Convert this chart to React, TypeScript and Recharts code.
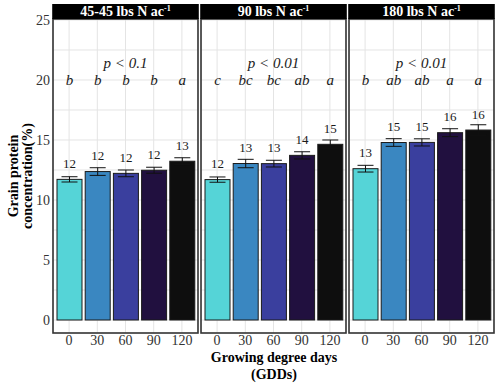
import React from 'react';
import { BarChart, Bar, XAxis, YAxis, CartesianGrid, ErrorBar, Cell } from 'recharts';

// ---------- data ----------
const gddLabels = ['0', '30', '60', '90', '120'];
const nRateTitles = ['45-45 lbs N ac', '90 lbs N ac', '180 lbs N ac'];
const pValueLabels = ['p < 0.1', 'p < 0.01', 'p < 0.01'];

const protein45 = [11.72, 12.37, 12.22, 12.48, 13.23];
const protein90 = [11.7, 13.04, 13.03, 13.72, 14.64];
const protein180 = [12.61, 14.79, 14.8, 15.61, 15.83];

const se45 = [0.22, 0.32, 0.28, 0.25, 0.29];
const se90 = [0.22, 0.35, 0.28, 0.3, 0.36];
const se180 = [0.28, 0.32, 0.3, 0.33, 0.44];

const letters45 = ['b', 'b', 'b', 'b', 'a'];
const letters90 = ['c', 'bc', 'bc', 'ab', 'a'];
const letters180 = ['b', 'ab', 'ab', 'a', 'a'];

const yTicks = [0, 5, 10, 15, 20, 25];
const yGridValues = [0, 2.5, 5, 7.5, 10, 12.5, 15, 17.5, 20, 22.5, 25];
const letterLevel = 20;

// ---------- styles / layout ----------
const FONT = '"Liberation Serif", "Times New Roman", serif';
const barColors = ['#55D4D7', '#3A87C1', '#3A3F9E', '#21103F', '#0E0E0E'];
const PANEL_LEFT = [53, 201, 349];
const PANEL_W = 145;
const PLOT_TOP = 19;
const PLOT_BOTTOM = 333;
const H = 388;
const W = 500;
const X_AXIS_H = 25;

const makeRows = (means: number[], ses: number[], letters: string[]) =>
  gddLabels.map((g, i) => ({ gdd: g, mean: means[i], se: ses[i], letter: letters[i] }));

const panelRows = [
  makeRows(protein45, se45, letters45),
  makeRows(protein90, se90, letters90),
  makeRows(protein180, se180, letters180),
];

const BarShape = (props: any) => {
  const { x, y, width, height, payload, fill } = props;
  if (!payload) return null;
  const ppu = height / payload.mean;
  const y0 = y + height;
  const yLetter = y0 - letterLevel * ppu;
  const cx = x + width / 2;
  return (
    <g>
      <rect x={x} y={y} width={width} height={height} fill={fill} stroke="#1a1a1a" strokeWidth={1} />
      <text x={cx} y={y - 11.5} textAnchor="middle" fontSize={13} fill="#1a1a1a" fontFamily={FONT}>
        {Math.round(payload.mean)}
      </text>
      <text x={cx} y={yLetter + 5} textAnchor="middle" fontSize={15} fontStyle="italic" fill="#1a1a1a" fontFamily={FONT}>
        {payload.letter}
      </text>
    </g>
  );
};

function Panel({ idx }: { idx: number }) {
  const rows = panelRows[idx];
  const withAxis = idx === 0;
  const axisW = withAxis ? 53 : 0;
  return (
    <div style={{ position: 'absolute', left: PANEL_LEFT[idx] - axisW, top: 0 }}>
      <BarChart
        width={PANEL_W + axisW}
        height={H}
        data={rows}
        margin={{ top: PLOT_TOP, right: 0, bottom: H - PLOT_BOTTOM - X_AXIS_H, left: 0 }}
        barSize={25}
      >
        <CartesianGrid stroke="#e4e4e4" strokeWidth={1} horizontalValues={yGridValues} />
        <XAxis
          dataKey="gdd"
          height={X_AXIS_H}
          padding={{ left: 2, right: 2 }}
          tickLine={false}
          axisLine={false}
          interval={0}
          tickSize={1}
          tickMargin={1}
          tick={{ fontSize: 14, fill: '#333', fontFamily: FONT }}
        />
        <YAxis
          type="number"
          domain={[-1.083, 25.083]}
          ticks={yTicks}
          width={withAxis ? axisW : 0}
          hide={!withAxis}
          tickLine={false}
          axisLine={false}
          tickSize={1}
          tickMargin={2}
          tick={{ fontSize: 14, fill: '#333', fontFamily: FONT }}
        />
        <Bar dataKey="mean" isAnimationActive={false} shape={BarShape}>
          {rows.map((r, i) => (
            <Cell key={r.gdd} fill={barColors[i]} />
          ))}
          <ErrorBar dataKey="se" width={8} stroke="#111" strokeWidth={1} direction="y" isAnimationActive={false} />
        </Bar>
      </BarChart>
    </div>
  );
}

export default function App() {
  return (
    <div style={{ position: 'absolute', left: 0, top: 0, width: W, height: H, background: '#fff', fontFamily: FONT }}>
      {[0, 1, 2].map((i) => (
        <Panel key={i} idx={i} />
      ))}
      <svg width={W} height={H} style={{ position: 'absolute', left: 0, top: 0, pointerEvents: 'none' }}>
        {PANEL_LEFT.map((L, i) => (
          <g key={i}>
            <rect x={L} y={PLOT_TOP} width={PANEL_W} height={PLOT_BOTTOM - PLOT_TOP} fill="none" stroke="#333" strokeWidth={1.6} />
            <rect x={L - 0.8} y={4} width={PANEL_W + 1.6} height={15} fill="#000" />
            <text x={L + PANEL_W / 2} y={16} textAnchor="middle" fill="#fff" fontSize={14} fontWeight="bold" fontFamily={FONT}>
              <tspan>{nRateTitles[i]}</tspan>
              <tspan fontSize={8} dy={-5}>-1</tspan>
            </text>
            <text x={L + PANEL_W / 2} y={67.5} textAnchor="middle" fill="#1a1a1a" fontSize={15} fontStyle="italic" fontFamily={FONT}>
              {pValueLabels[i]}
            </text>
          </g>
        ))}
        <text x={274} y={361.5} textAnchor="middle" fontSize={14} fontWeight="bold" fill="#000" fontFamily={FONT}>
          Growing degree days
        </text>
        <text x={274} y={379} textAnchor="middle" fontSize={14} fontWeight="bold" fill="#000" fontFamily={FONT}>
          (GDDs)
        </text>
        <text transform="translate(18,176) rotate(-90)" textAnchor="middle" fontSize={14} fontWeight="bold" fill="#000" fontFamily={FONT}>
          Grain protein
        </text>
        <text transform="translate(31.5,176) rotate(-90)" textAnchor="middle" fontSize={14} fontWeight="bold" fill="#000" fontFamily={FONT}>
          concentration(%)
        </text>
      </svg>
    </div>
  );
}
